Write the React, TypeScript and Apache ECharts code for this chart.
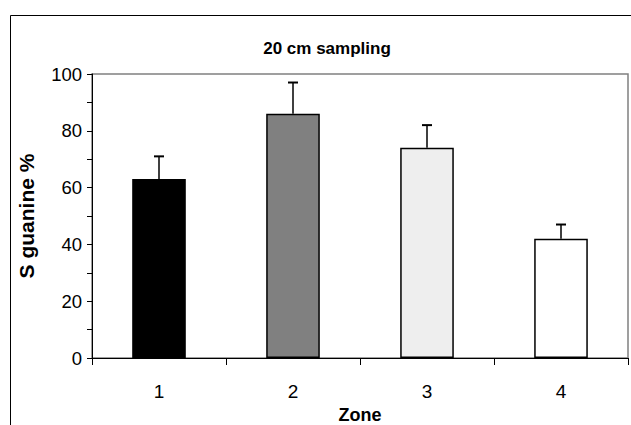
import React, { useEffect, useRef } from "react";
import * as echarts from "echarts";

const categories = ["1", "2", "3", "4"];
const means = [63, 86, 74, 42];
const upper = [71, 97, 82, 47];
const barColors = ["#000000", "#808080", "#eeeeee", "#ffffff"];
const yTicks = [0, 20, 40, 60, 80, 100];

const FONT = "'Liberation Sans', Arial, sans-serif";

export default function App() {
  const ref = useRef<HTMLDivElement>(null);
  useEffect(() => {
    if (!ref.current) return;
    const chart = echarts.init(ref.current, null, { renderer: "svg" });
    chart.setOption({
      animation: false,
      backgroundColor: "#ffffff",
      title: {
        text: "20 cm sampling",
        left: 322,
        top: 35,
        textAlign: "center",
        textStyle: { fontFamily: FONT, fontWeight: "bold", fontSize: 17, color: "#000" },
      },
      graphic: [
        {
          type: "rect",
          shape: { x: 10.5, y: 15.5, width: 660, height: 460 },
          style: { fill: "none", stroke: "#000", lineWidth: 1 },
          silent: true,
          z: 100,
        },
      ],
      grid: {
        left: 92,
        right: 3,
        top: 74,
        bottom: 67,
        containLabel: false,
        outerBoundsMode: "none",
        show: true,
        borderColor: "#808080",
        borderWidth: 1.5,
        backgroundColor: "transparent",
      },
      xAxis: {
        type: "category",
        data: categories,
        boundaryGap: true,
        name: "Zone",
        nameLocation: "middle",
        nameGap: 42,
        nameTextStyle: { fontFamily: FONT, fontWeight: "bold", fontSize: 18, color: "#000" },
        axisLine: { lineStyle: { color: "#000", width: 1 } },
        axisTick: { show: true, length: 7, lineStyle: { color: "#000" }, alignWithLabel: false },
        axisLabel: { fontFamily: FONT, fontSize: 19, color: "#000", margin: 24 },
        splitLine: { show: false },
      },
      yAxis: {
        type: "value",
        min: 0,
        max: 100,
        interval: 20,
        name: "S guanine %",
        nameLocation: "middle",
        nameGap: 55,
        nameRotate: 90,
        nameTextStyle: { fontFamily: FONT, fontWeight: "bold", fontSize: 21, color: "#000" },
        axisLine: { show: true, lineStyle: { color: "#000", width: 1 } },
        axisTick: { show: true, length: 5, lineStyle: { color: "#000" } },
        minorTick: { show: true, splitNumber: 2, length: 5, lineStyle: { color: "#000" } },
        axisLabel: {
          fontFamily: FONT,
          fontSize: 18.5,
          color: "#000",
          margin: 10,
          formatter: (v: number) => (yTicks.includes(v) ? String(v) : ""),
        },
        splitLine: { show: false },
      },
      series: [
        {
          type: "bar",
          data: means.map((v, i) => ({
            value: v,
            itemStyle: { color: barColors[i], borderColor: "#000", borderWidth: 1.5 },
          })),
          barWidth: "40%",
          z: 2,
        },
        {
          type: "custom",
          z: 3,
          data: means.map((v, i) => [i, v, upper[i]]),
          renderItem: (params: any, api: any) => {
            const x = api.value(0);
            const base = api.coord([x, api.value(1)]);
            const top = api.coord([x, api.value(2)]);
            const cap = 5;
            return {
              type: "group",
              children: [
                {
                  type: "line",
                  shape: { x1: base[0], y1: base[1], x2: top[0], y2: top[1] },
                  style: { stroke: "#000", lineWidth: 1.5 },
                },
                {
                  type: "line",
                  shape: { x1: top[0] - cap, y1: top[1], x2: top[0] + cap, y2: top[1] },
                  style: { stroke: "#000", lineWidth: 2 },
                },
              ],
            };
          },
        },
      ],
    });
    return () => chart.dispose();
  }, []);
  return (
    <div
      ref={ref}
      style={{ position: "fixed", left: 0, top: 0, width: 631, height: 425 }}
    />
  );
}
